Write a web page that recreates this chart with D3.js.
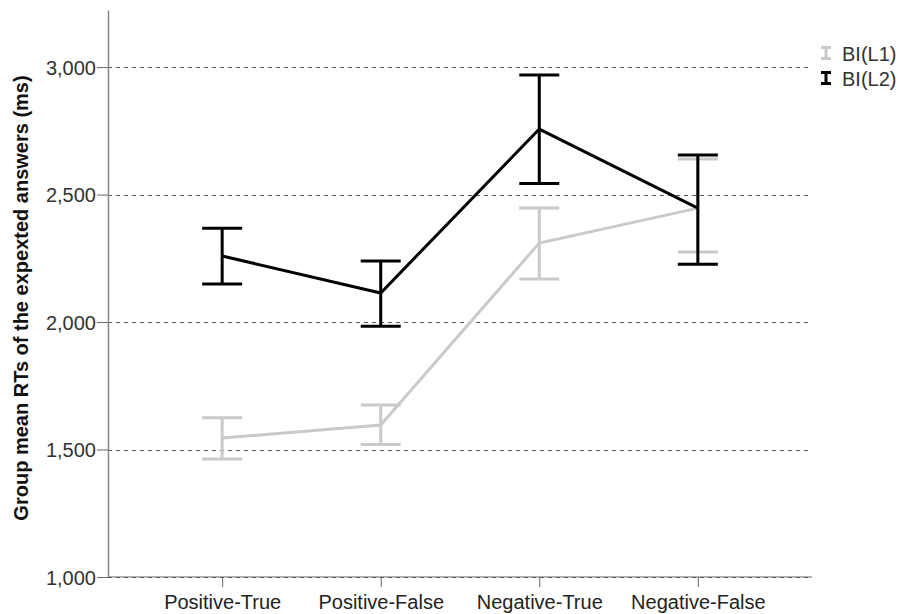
<!DOCTYPE html>
<html><head><meta charset="utf-8">
<script src="https://cdn.jsdelivr.net/npm/d3@7"></script>
<style>body{margin:0;background:#fff}svg{display:block;font-family:"Liberation Sans",Arial,sans-serif}</style>
</head><body><svg id="c" width="901" height="614"></svg>
<script>
const categories = ["Positive-True","Positive-False","Negative-True","Negative-False"];
const seriesNames = ["BI(L1)","BI(L2)"];
const meanL1 = [1545,1596,2310,2447];
const lowL1  = [1463,1520,2169,2275];
const highL1 = [1625,1675,2447,2640];
const meanL2 = [2259,2114,2757,2447];
const lowL2  = [2149,1984,2543,2227];
const highL2 = [2368,2239,2969,2655];
const yTicks = [1000,1500,2000,2500,3000];

const series = [
  {name:seriesNames[0], mean:meanL1, low:lowL1, high:highL1, color:"#cacaca"},
  {name:seriesNames[1], mean:meanL2, low:lowL2, high:highL2, color:"#000000"}
];

const svg = d3.select("#c");
const L=108, R=812, T=10, B=577;
const x = d3.scalePoint().domain(categories).range([L,R]).padding(0.72);
const y = d3.scaleLinear().domain([1000,3224]).range([B,T]);
const FF = "Liberation Sans, Arial, sans-serif";

// gridlines
svg.append("line").attr("x1",L).attr("x2",R).attr("y1",B).attr("y2",B).attr("stroke","#999").attr("stroke-width",1.5);
svg.append("g").selectAll("line").data(yTicks).join("line")
  .attr("x1",L).attr("x2",R).attr("y1",d=>Math.round(y(d))+0.5).attr("y2",d=>Math.round(y(d))+0.5)
  .attr("stroke","#555").attr("stroke-dasharray","4,4");

// y axis
const ya = svg.append("g").attr("transform",`translate(${L},0)`)
  .call(d3.axisLeft(y).tickValues(yTicks).tickFormat(d3.format(",")).tickSize(11).tickSizeOuter(0));
ya.select(".domain").attr("stroke","#888").attr("stroke-width",1.5);
ya.selectAll(".tick line").attr("stroke","#666");
ya.selectAll("text").attr("font-size",20).attr("fill","#333").attr("font-family",FF).attr("x",-12).attr("dy","0.36em");

// x axis
const xa = svg.append("g").attr("transform",`translate(0,${B})`)
  .call(d3.axisBottom(x).tickSize(10).tickSizeOuter(0));
xa.select(".domain").remove();
xa.selectAll(".tick line").attr("stroke","#666");
xa.selectAll("text").attr("font-size",20).attr("fill","#222").attr("font-family",FF).attr("y",32).attr("dy",0);

// y label
svg.append("text").attr("transform","translate(28,298) rotate(-90)").attr("text-anchor","middle")
  .attr("font-size",20).attr("font-weight","bold").attr("fill","#111").attr("font-family",FF)
  .text("Group mean RTs of the expexted answers (ms)");

const cap = 20;
const line = d3.line().x((d,i)=>x(categories[i])).y(d=>y(d));
series.forEach(s=>{
  const g = svg.append("g");
  g.append("path").attr("d",line(s.mean)).attr("fill","none").attr("stroke",s.color).attr("stroke-width",3);
  categories.forEach((c,i)=>{
    const cx = x(c);
    g.append("line").attr("x1",cx).attr("x2",cx).attr("y1",y(s.low[i])).attr("y2",y(s.high[i])).attr("stroke",s.color).attr("stroke-width",3);
    [s.low[i],s.high[i]].forEach(v=>{
      g.append("line").attr("x1",cx-cap).attr("x2",cx+cap).attr("y1",y(v)).attr("y2",y(v)).attr("stroke",s.color).attr("stroke-width",3);
    });
  });
});

// legend
const lg = svg.append("g");
series.forEach((s,i)=>{
  const cy = 53 + i*25;
  const g = lg.append("g").attr("transform",`translate(826,${cy})`);
  g.append("line").attr("x1",0).attr("x2",0).attr("y1",-6).attr("y2",6).attr("stroke",s.color).attr("stroke-width",3);
  g.append("line").attr("x1",-5).attr("x2",5).attr("y1",-5.5).attr("y2",-5.5).attr("stroke",s.color).attr("stroke-width",3);
  g.append("line").attr("x1",-5).attr("x2",5).attr("y1",5.5).attr("y2",5.5).attr("stroke",s.color).attr("stroke-width",3);
  lg.append("text").attr("x",842).attr("y",cy+8).attr("font-size",20).attr("fill","#333").attr("font-family",FF).text(s.name);
});
</script></body></html>
